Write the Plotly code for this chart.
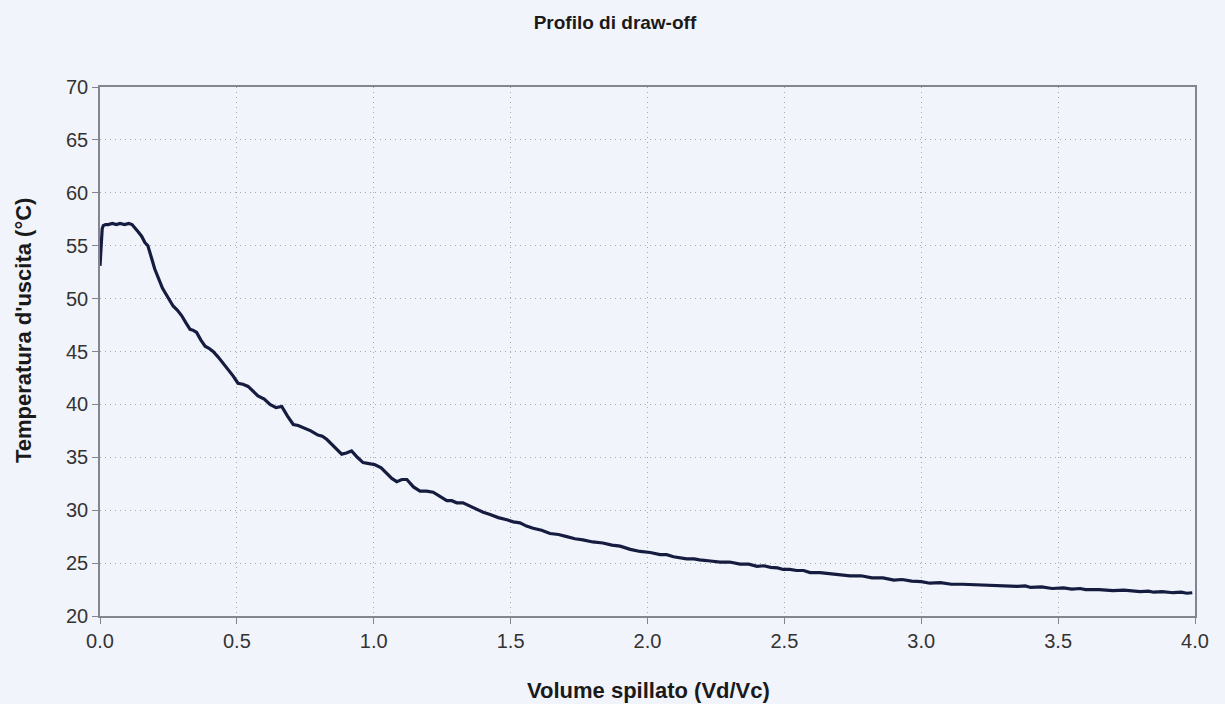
import plotly.graph_objects as go

# Draw-off profile: outlet temperature vs. dimensionless drawn volume
volume = [
    0.000, 0.004, 0.008, 0.012, 0.020, 0.030, 0.045, 0.060, 0.073, 0.090,
    0.105, 0.117, 0.128, 0.140, 0.152, 0.164, 0.175, 0.183, 0.192, 0.200,
    0.210, 0.219, 0.228, 0.237, 0.252, 0.267, 0.283, 0.298, 0.314, 0.329,
    0.341, 0.353, 0.368, 0.384, 0.398, 0.413, 0.431, 0.450, 0.468, 0.486,
    0.504, 0.522, 0.541, 0.559, 0.577, 0.600, 0.621, 0.643, 0.664, 0.685,
    0.706, 0.724, 0.742, 0.770, 0.796, 0.812, 0.828, 0.856, 0.883, 0.900,
    0.919, 0.940, 0.961, 0.983, 1.005, 1.027, 1.048, 1.066, 1.084, 1.103,
    1.121, 1.145, 1.169, 1.193, 1.217, 1.242, 1.267, 1.285, 1.303, 1.326,
    1.350, 1.376, 1.400, 1.425, 1.455, 1.486, 1.510, 1.534, 1.558, 1.582,
    1.613, 1.644, 1.675, 1.705, 1.735, 1.764, 1.800, 1.837, 1.870, 1.900,
    1.937, 1.973, 2.010, 2.046, 2.070, 2.095, 2.120, 2.143, 2.170, 2.190,
    2.230, 2.265, 2.300, 2.338, 2.370, 2.400, 2.425, 2.450, 2.475, 2.496,
    2.520, 2.545, 2.570, 2.594, 2.630, 2.667, 2.700, 2.740, 2.780, 2.820,
    2.860, 2.900, 2.930, 2.965, 3.000, 3.032, 3.070, 3.110, 3.150, 3.190,
    3.230, 3.265, 3.300, 3.350, 3.380, 3.400, 3.440, 3.478, 3.520, 3.550,
    3.580, 3.600, 3.650, 3.700, 3.740, 3.780, 3.800, 3.830, 3.850, 3.880,
    3.920, 3.950, 3.970, 3.990,
]
temperature = [
    53.1, 55.6, 56.6, 56.9, 57.0, 57.0, 57.1, 57.0, 57.1, 57.0,
    57.1, 57.0, 56.7, 56.3, 55.9, 55.3, 55.0, 54.4, 53.5, 52.8,
    52.1, 51.6, 51.0, 50.6, 50.0, 49.3, 48.9, 48.4, 47.7, 47.1,
    47.0, 46.8, 46.1, 45.5, 45.3, 45.0, 44.5, 43.9, 43.3, 42.7,
    42.0, 41.9, 41.7, 41.2, 40.8, 40.5, 40.0, 39.7, 39.8, 38.9,
    38.1, 38.0, 37.8, 37.5, 37.1, 37.0, 36.7, 36.0, 35.3, 35.4,
    35.6, 35.0, 34.5, 34.4, 34.3, 34.0, 33.5, 33.0, 32.7, 32.9,
    32.9, 32.2, 31.8, 31.8, 31.7, 31.3, 30.9, 30.9, 30.7, 30.7,
    30.4, 30.1, 29.8, 29.6, 29.3, 29.1, 28.9, 28.8, 28.5, 28.3,
    28.1, 27.8, 27.7, 27.5, 27.3, 27.2, 27.0, 26.9, 26.7, 26.6,
    26.3, 26.1, 26.0, 25.8, 25.8, 25.6, 25.5, 25.4, 25.4, 25.3,
    25.2, 25.1, 25.1, 24.9, 24.9, 24.7, 24.75, 24.6, 24.55, 24.4,
    24.4, 24.3, 24.3, 24.1, 24.1, 24.0, 23.95, 23.8, 23.8, 23.6,
    23.6, 23.4, 23.45, 23.3, 23.25, 23.1, 23.15, 23.0, 23.0, 22.95,
    22.9, 22.9, 22.85, 22.8, 22.85, 22.7, 22.75, 22.6, 22.65, 22.55,
    22.6, 22.5, 22.5, 22.4, 22.45, 22.35, 22.3, 22.35, 22.25, 22.3,
    22.2, 22.25, 22.15, 22.2,
]

x_ticks = [0.0, 0.5, 1.0, 1.5, 2.0, 2.5, 3.0, 3.5, 4.0]
y_ticks = [20, 25, 30, 35, 40, 45, 50, 55, 60, 65, 70]

W, H = 1225, 704
bg = "#f2f4fb"
axis_col = "#83868f"
grid_col = "#a4a8b3"
font_fam = "Liberation Sans, Arial, sans-serif"
title_col = "#1a1a1a"

fig = go.Figure()
fig.add_trace(go.Scatter(
    x=volume, y=temperature, mode="lines",
    line=dict(color="#161c40", width=3.2),
    showlegend=False, hoverinfo="skip",
))

axis_common = dict(
    showline=True, linecolor=axis_col, linewidth=1.5, mirror=True,
    ticks="outside", ticklen=6, tickcolor=axis_col,
    showgrid=True, gridcolor=grid_col, griddash="1px,4px", gridwidth=1,
    zeroline=False, automargin=False,
    tickfont=dict(size=20, color="#333333"),
)

fig.update_layout(
    width=W, height=H,
    margin=dict(l=100, r=30, t=87, b=88),
    paper_bgcolor=bg, plot_bgcolor=bg,
    font=dict(family=font_fam, color="#2b2b2b"),
    title=dict(
        text="<b>Profilo di draw-off</b>",
        x=0.502, xref="container", xanchor="center",
        y=1 - 22 / H, yref="container", yanchor="middle",
        font=dict(size=19, color=title_col, family=font_fam),
    ),
    xaxis=dict(range=[0, 4], tickvals=x_ticks, tickformat=".1f", **axis_common),
    yaxis=dict(range=[20, 70], tickvals=y_ticks, **axis_common),
    annotations=[
        dict(
            text="<b>Volume spillato (Vd/Vc)</b>",
            xref="paper", yref="paper",
            x=(648 - 100) / (W - 130), y=-(690 - 616) / (H - 175),
            xanchor="center", yanchor="middle", showarrow=False,
            font=dict(size=22, color=title_col, family=font_fam),
        ),
        dict(
            text="<b>Temperatura d'uscita (°C)</b>",
            xref="paper", yref="paper", textangle=-90,
            x=-(100 - 23) / (W - 130), y=(616 - 331) / (H - 175),
            xanchor="center", yanchor="middle", showarrow=False,
            font=dict(size=22, color=title_col, family=font_fam),
        ),
    ],
)

fig.write_html("out.html")
